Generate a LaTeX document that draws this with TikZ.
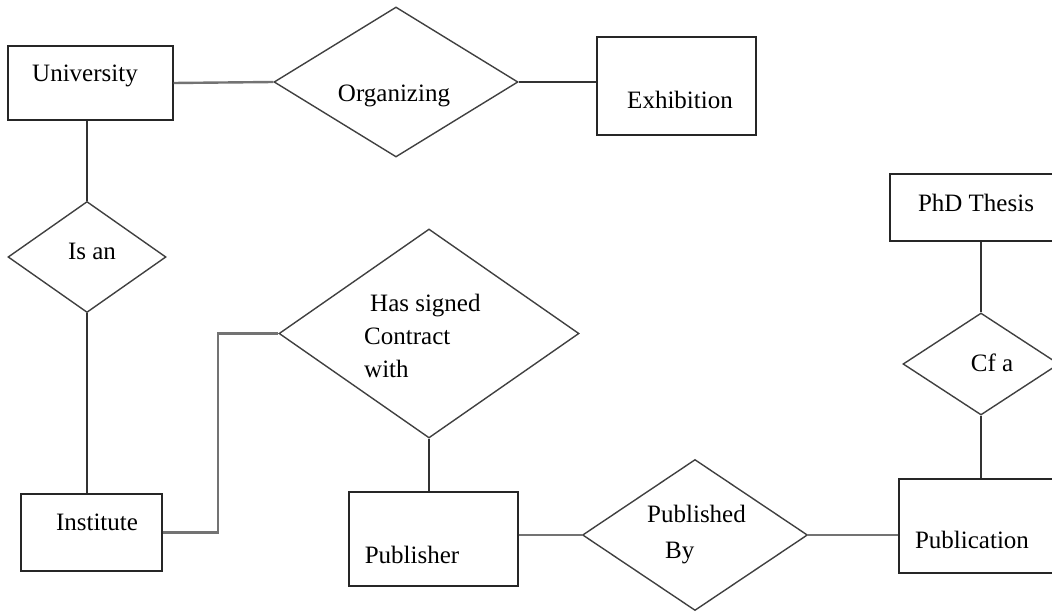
\documentclass[tikz,border=0pt]{standalone}
\usepackage{fontspec}
\setmainfont{Liberation Serif}
\usetikzlibrary{shapes.geometric}

\begin{document}
\begin{tikzpicture}[x=1pt, y=-1pt,
  every node/.style={font=\fontsize{25}{33}\selectfont},
  entity/.style={draw=black!85, line width=1.4pt, rectangle, inner sep=0pt},
  relation/.style={draw=black!75, line width=1.4pt, diamond, inner sep=0pt},
  caption/.style={inner sep=0pt, text=black},
  link/.style={draw=black!80, line width=1.4pt},
  heavylink/.style={draw=black!55, line width=2.4pt}]

  \useasboundingbox (0,0) rectangle (1052,612);
  \clip (0,0) rectangle (1052,612);

  % entities
  \node[entity, minimum width=165pt, minimum height=74pt]  (univ) at (90.5,83) {};
  \node[entity, minimum width=159pt, minimum height=98pt]  (exh)  at (676.5,86) {};
  \node[entity, minimum width=141pt, minimum height=77pt]  (inst) at (91.5,532.5) {};
  \node[entity, minimum width=169pt, minimum height=94pt]  (pubr) at (433.5,539) {};
  \node[entity, minimum width=190pt, minimum height=67pt]  (phd)  at (985,207.5) {};
  \node[entity, minimum width=190pt, minimum height=94pt]  (publ) at (994,526) {};

  % relationships
  \node[relation, minimum width=244pt, minimum height=150pt, aspect=1.63] (org)  at (396,82) {};
  \node[relation, minimum width=158pt, minimum height=111pt, aspect=1.42] (isan) at (87,257) {};
  \node[relation, minimum width=300pt, minimum height=209pt, aspect=1.43] (has)  at (429,333.5) {};
  \node[relation, minimum width=225pt, minimum height=151pt, aspect=1.49] (pb)   at (695,535) {};
  \node[relation, minimum width=156pt, minimum height=102pt, aspect=1.53] (cfa)  at (981,364) {};

  % labels
  \node[caption] (univT) at (85,76)   {University};
  \node[caption] (orgT)  at (394,96)  {Organizing};
  \node[caption] (exhT)  at (680,100) {Exhibition};
  \node[caption] (isanT) at (92,251)  {Is an};
  \node[caption] (instT) at (97,522)  {Institute};
  \node[caption, align=left, anchor=west] (hasT) at (364,336)
    {\hspace{6pt}Has signed\\Contract\\with};
  \node[caption] (pubrT) at (412,555) {Publisher};
  \node[caption, align=left, anchor=west, font=\fontsize{25}{36}\selectfont] (pbT) at (647,535)
    {Published\\\hspace{18pt}By};
  \node[caption] (publT) at (972,540) {Publication};
  \node[caption] (phdT)  at (976,203) {PhD Thesis};
  \node[caption] (cfaT)  at (992,363) {Cf a};

  % connectors
  \draw[heavylink] (univ.east) -- (org.west);
  \draw[link] (org.east) -- (org.east -| exh.west);
  \draw[link] (isan.north |- univ.south) -- (isan.north);
  \draw[link] (isan.south) -- (isan.south |- inst.north);
  \draw[heavylink] (inst.east) -- ++(55,0) coordinate (bend) |- (has.west);
  \draw[link] (has.south) -- (has.south |- pubr.north);
  \draw[heavylink] (pb.west -| pubr.east) -- (pb.west);
  \draw[heavylink] (pb.east) -- (pb.east -| publ.west);
  \draw[link] (cfa.north |- phd.south) -- (cfa.north);
  \draw[link] (cfa.south) -- (cfa.south |- publ.north);
\end{tikzpicture}
\end{document}
